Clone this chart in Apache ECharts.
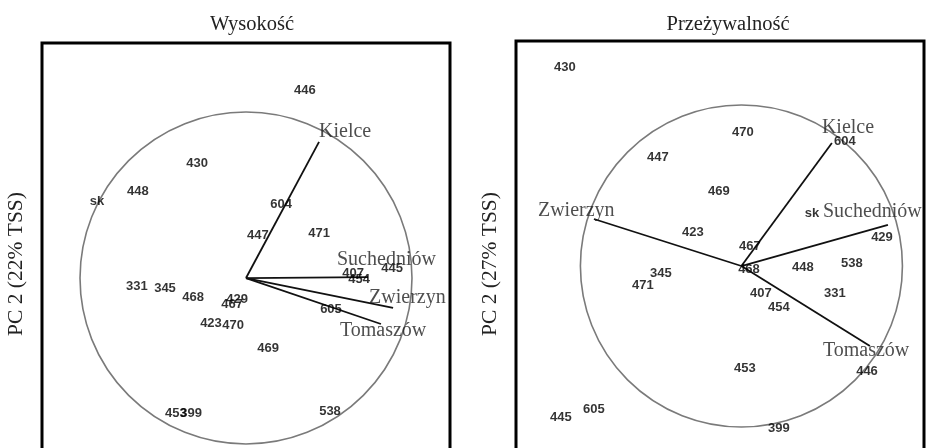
<!DOCTYPE html>
<html>
<head>
<meta charset="utf-8">
<script src="https://cdn.jsdelivr.net/npm/echarts@6/dist/echarts.min.js"></script>
<style>
  html, body { margin: 0; padding: 0; background: #fff; }
  #chart { width: 926px; height: 448px; }
</style>
</head>
<body>
<div id="chart"></div>
<script>
// site labels and their scores on PC1 / PC2
var sites = ['331', '345', '399', '407', '423', '429', '430', '445', '446', '447', '448',
    '453', '454', '467', '468', '469', '470', '471', '538', '604', '605', 'sk'];

var heightPC1 = [-0.657, -0.488, -0.331, 0.645, -0.211, -0.054, -0.295, 0.880, 0.355, 0.072, -0.651,
    -0.422, 0.681, -0.084, -0.319, 0.133, -0.078, 0.440, 0.506, 0.211, 0.512, -0.898];
var heightPC2 = [-0.048, -0.060, -0.813, 0.030, -0.271, -0.127, 0.693, 0.060, 1.133, 0.259, 0.524,
    -0.813, -0.006, -0.157, -0.114, -0.422, -0.283, 0.271, -0.801, 0.446, -0.187, 0.464];

var survivalPC1 = [0.581, -0.500, 0.233, 0.121, -0.301, 0.873, -1.096, -1.121, 0.780, -0.519, 0.382,
    0.022, 0.233, 0.053, 0.047, -0.140, 0.009, -0.612, 0.686, 0.643, -0.916, 0.438];
var survivalPC2 = [-0.168, -0.043, -1.006, -0.168, 0.211, 0.180, 1.236, -0.938, -0.658, 0.677, -0.006,
    -0.634, -0.255, 0.124, -0.019, 0.466, 0.832, -0.118, 0.019, 0.776, -0.888, 0.329];

// variable loadings (arrow ends)
var variables = ['Kielce', 'Suchedniów', 'Zwierzyn', 'Tomaszów'];
var heightLoad1 = [0.440, 0.735, 0.886, 0.813];
var heightLoad2 = [0.820, 0.006, -0.180, -0.277];
var survivalLoad1 = [0.562, 0.910, -0.916, 0.798];
var survivalLoad2 = [0.764, 0.255, 0.292, -0.497];

var panelTitles = ['Wysokość', 'Przeżywalność'];
var yNames = ['PC 2 (22% TSS)', 'PC 2 (27% TSS)'];

// label placement of variable names relative to arrow end (px)
var varOffsets = [
    [[0, -10], [-31, -17], [-24, -10], [-41, 7]],
    [[-10, -15], [-65, -13], [-56, -8], [-47, 5]]
];

var serif = '"Liberation Serif", "DejaVu Serif", serif';

var myChart = echarts.init(document.getElementById('chart'));

function siteData(xs, ys) {
    return sites.map(function (s, i) {
        return {name: s, value: [xs[i], ys[i]]};
    });
}

function arrowData(xs, ys) {
    return variables.map(function (v, i) {
        return {coords: [[0, 0], [xs[i], ys[i]]]};
    });
}

function varLabelData(xs, ys, offs) {
    return variables.map(function (v, i) {
        return {
            name: v,
            value: [xs[i], ys[i]],
            label: {offset: offs[i]}
        };
    });
}

function panelSeries(idx, px, py, lx, ly) {
    return [{
        type: 'custom',
        xAxisIndex: idx,
        yAxisIndex: idx,
        silent: true,
        clip: false,
        data: [[0, 0]],
        renderItem: function (params, api) {
            var c = api.coord([0, 0]);
            var r = api.size([1, 1]);
            return {
                type: 'circle',
                shape: {cx: c[0], cy: c[1], r: r[0]},
                style: {fill: 'none', stroke: '#7a7a7a', lineWidth: 1.6}
            };
        }
    }, {
        type: 'lines',
        coordinateSystem: 'cartesian2d',
        xAxisIndex: idx,
        yAxisIndex: idx,
        silent: true,
        lineStyle: {color: '#111', width: 1.8, opacity: 1},
        data: arrowData(lx, ly)
    }, {
        type: 'scatter',
        xAxisIndex: idx,
        yAxisIndex: idx,
        symbolSize: 0,
        silent: true,
        label: {
            show: true,
            position: 'inside',
            formatter: '{b}',
            color: '#000',
            fontFamily: '"Liberation Sans", Arial, sans-serif',
            fontWeight: 'bold',
            fontSize: 13
        },
        data: siteData(px, py)
    }, {
        type: 'scatter',
        xAxisIndex: idx,
        yAxisIndex: idx,
        symbolSize: 0,
        silent: true,
        label: {
            show: true,
            position: 'inside',
            align: 'left',
            formatter: '{b}',
            color: '#222',
            fontFamily: serif,
            fontSize: 20
        },
        data: varLabelData(lx, ly, varOffsets[idx])
    }];
}

function hiddenAxis(gi, min, max, name) {
    return {
        type: 'value',
        gridIndex: gi,
        min: min,
        max: max,
        name: name,
        nameLocation: 'middle',
        nameGap: 15,
        nameTextStyle: {fontFamily: serif, fontSize: 21.5, color: '#222'},
        axisLine: {show: false},
        axisTick: {show: false},
        axisLabel: {show: false},
        splitLine: {show: false}
    };
}

var option = {
    animation: false,
    backgroundColor: '#fff',
    title: [{
        text: panelTitles[0],
        left: 247,
        textAlign: 'center',
        top: 9,
        textStyle: {fontFamily: serif, fontSize: 20.5, fontWeight: 'normal', color: '#222'}
    }, {
        text: panelTitles[1],
        left: 723,
        textAlign: 'center',
        top: 9,
        textStyle: {fontFamily: serif, fontSize: 20.5, fontWeight: 'normal', color: '#222'}
    }],
    grid: [
        {left: 42, top: 43, width: 408, height: 442, show: true, borderColor: '#000', borderWidth: 3,
            backgroundColor: 'transparent', outerBoundsMode: 'none', containLabel: false},
        {left: 516, top: 41, width: 408, height: 446, show: true, borderColor: '#000', borderWidth: 3,
            backgroundColor: 'transparent', outerBoundsMode: 'none', containLabel: false}
    ],
    xAxis: [
        hiddenAxis(0, -1.229, 1.229, ''),
        hiddenAxis(1, -1.40, 1.134, '')
    ],
    yAxis: [
        hiddenAxis(0, -1.247, 1.416, yNames[0]),
        hiddenAxis(1, -1.373, 1.398, yNames[1])
    ],
    series: panelSeries(0, heightPC1, heightPC2, heightLoad1, heightLoad2)
        .concat(panelSeries(1, survivalPC1, survivalPC2, survivalLoad1, survivalLoad2))
};

myChart.setOption(option);
</script>
</body>
</html>
